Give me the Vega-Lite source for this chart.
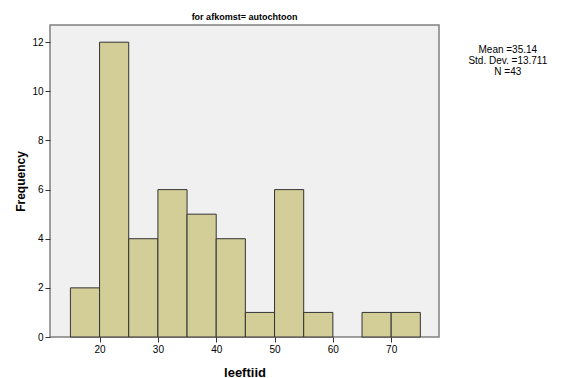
{
  "$schema": "https://vega.github.io/schema/vega-lite/v6.json",
  "autosize": "none",
  "width": 389,
  "height": 312,
  "padding": {"left": 50, "top": 25, "right": 122, "bottom": 41},
  "background": "white",
  "config": {
    "font": "Liberation Sans",
    "view": {"fill": "#F0F0F0", "stroke": "#808080", "strokeWidth": 1.5},
    "axis": {"grid": false, "domain": false, "tickColor": "#333", "tickSize": 5, "labelFontSize": 10, "labelColor": "#000", "labelFont": "Liberation Sans", "titleFont": "Liberation Sans", "titleColor": "#000", "titleFontWeight": "bold"}
  },
  "title": {"text": "for afkomst= autochtoon", "fontSize": 9, "fontWeight": "bold", "font": "Liberation Sans", "offset": 3, "color": "#000"},
  "layer": [
    {
      "data": {"values": [
        {"start": 15, "end": 20, "count": 2},
        {"start": 20, "end": 25, "count": 12},
        {"start": 25, "end": 30, "count": 4},
        {"start": 30, "end": 35, "count": 6},
        {"start": 35, "end": 40, "count": 5},
        {"start": 40, "end": 45, "count": 4},
        {"start": 45, "end": 50, "count": 1},
        {"start": 50, "end": 55, "count": 6},
        {"start": 55, "end": 60, "count": 1},
        {"start": 65, "end": 70, "count": 1},
        {"start": 70, "end": 75, "count": 1}
      ]},
      "mark": {"type": "bar", "fill": "#D3CE97", "stroke": "#333333", "strokeWidth": 1},
      "encoding": {
        "x": {"field": "start", "type": "quantitative", "scale": {"domain": [11.5, 78.2], "nice": false, "zero": false}, "axis": {"values": [20, 30, 40, 50, 60, 70], "title": "leeftiid", "titleFontSize": 13, "titlePadding": 12}},
        "x2": {"field": "end"},
        "y": {"field": "count", "type": "quantitative", "scale": {"domain": [0, 12.7], "nice": false}, "axis": {"values": [0, 2, 4, 6, 8, 10, 12], "title": "Frequency", "titleFontSize": 12, "titlePadding": 4}},
        "y2": {"datum": 0}
      }
    },
    {
      "data": {"values": [
        {"x": 90, "y": 11.68, "label": "Mean =35.14"},
        {"x": 90, "y": 11.23, "label": "Std. Dev. =13.711"},
        {"x": 90, "y": 10.78, "label": "N =43"}
      ]},
      "mark": {"type": "text", "fontSize": 10, "font": "Liberation Sans", "color": "#000", "align": "center", "baseline": "middle"},
      "encoding": {
        "x": {"field": "x", "type": "quantitative"},
        "y": {"field": "y", "type": "quantitative"},
        "text": {"field": "label"}
      }
    }
  ]
}
